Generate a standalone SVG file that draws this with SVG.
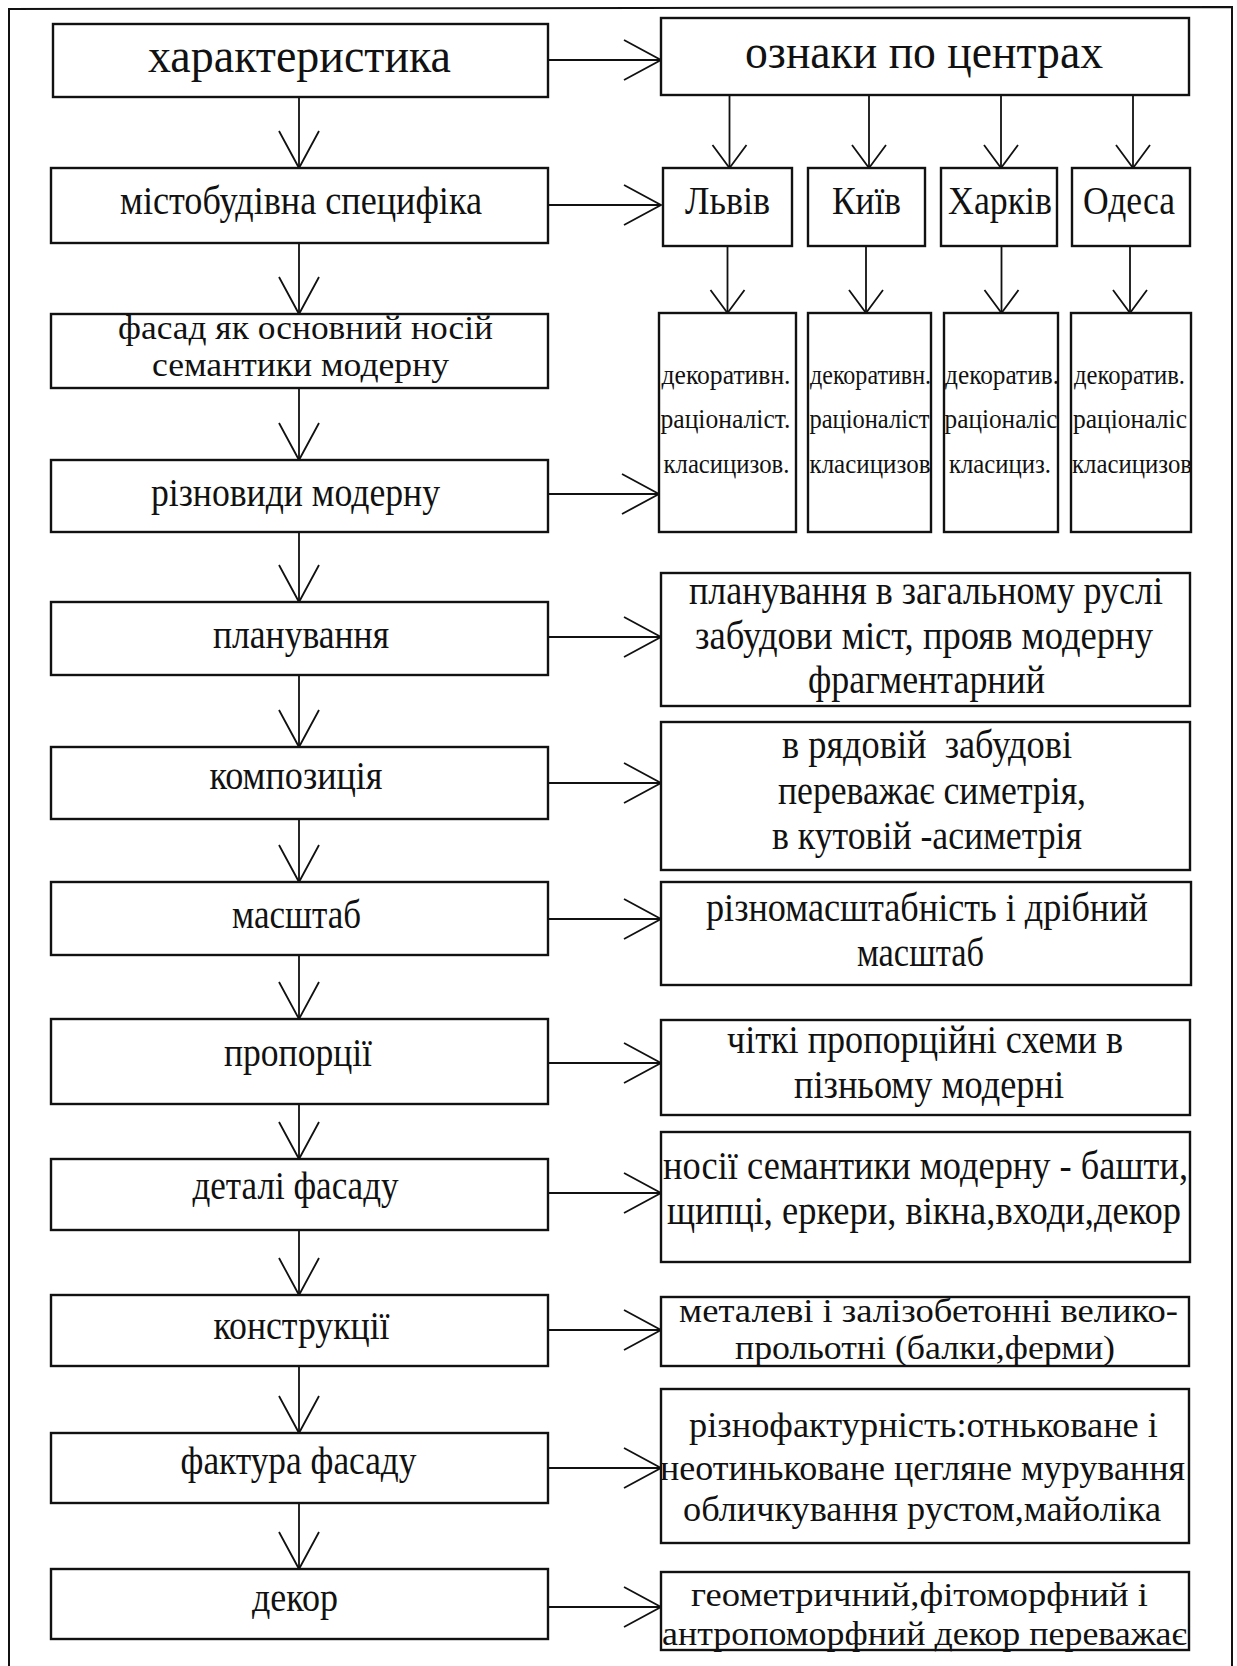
<svg xmlns="http://www.w3.org/2000/svg" width="1237" height="1666" viewBox="0 0 1237 1666">
  <style>
    .box { fill: #fff; stroke: #111; stroke-width: 2.4; }
    .t { font-family: "Liberation Serif", "Times New Roman", serif; fill: #111; font-size: 39px; }
    .big { font-size: 48px; }
    .mid { font-size: 36px; }
    .tight { font-size: 34px; }
    .sm { font-size: 28px; }
    .ln { fill: none; stroke: #111; stroke-width: 1.8; }
    .frame { fill: none; stroke: #111; stroke-width: 2; }
  </style>
  <defs>
    <!-- open V arrowheads: long one for the main chain, short one for the city fan-out -->
    <marker id="arrow" markerUnits="userSpaceOnUse" viewBox="-40 -24 44 48" markerWidth="44" markerHeight="48" refX="0" refY="0" orient="auto" overflow="visible">
      <path d="M-37,-20 L0,0 L-37,20" fill="none" stroke="#111" stroke-width="1.8"/>
    </marker>
    <marker id="arrowS" markerUnits="userSpaceOnUse" viewBox="-28 -22 32 44" markerWidth="32" markerHeight="44" refX="0" refY="0" orient="auto" overflow="visible">
      <path d="M-23,-17 L0,0 L-23,17" fill="none" stroke="#111" stroke-width="1.8"/>
    </marker>
  </defs>

  <rect width="1237" height="1666" fill="#fff"/>

  <!-- page frame (open at the bottom) -->
  <path class="frame" d="M9,1666 L9,9 L1232,7 L1232,1666"/>

  <!-- connectors -->
  <g id="connectors">
    <!-- main vertical chain -->
    <line class="ln" x1="299" y1="97" x2="299" y2="168" marker-end="url(#arrow)"/>
    <line class="ln" x1="299" y1="243" x2="299" y2="314" marker-end="url(#arrow)"/>
    <line class="ln" x1="299" y1="388" x2="299" y2="460" marker-end="url(#arrow)"/>
    <line class="ln" x1="299" y1="532" x2="299" y2="602" marker-end="url(#arrow)"/>
    <line class="ln" x1="299" y1="675" x2="299" y2="747" marker-end="url(#arrow)"/>
    <line class="ln" x1="299" y1="819" x2="299" y2="882" marker-end="url(#arrow)"/>
    <line class="ln" x1="299" y1="955" x2="299" y2="1019" marker-end="url(#arrow)"/>
    <line class="ln" x1="299" y1="1104" x2="299" y2="1159" marker-end="url(#arrow)"/>
    <line class="ln" x1="299" y1="1230" x2="299" y2="1295" marker-end="url(#arrow)"/>
    <line class="ln" x1="299" y1="1366" x2="299" y2="1433" marker-end="url(#arrow)"/>
    <line class="ln" x1="299" y1="1503" x2="299" y2="1569" marker-end="url(#arrow)"/>

    <!-- horizontal links to the right column -->
    <line class="ln" x1="548" y1="60" x2="661" y2="60" marker-end="url(#arrow)"/>
    <line class="ln" x1="548" y1="205" x2="661" y2="205" marker-end="url(#arrow)"/>
    <line class="ln" x1="548" y1="494" x2="659" y2="494" marker-end="url(#arrow)"/>
    <line class="ln" x1="548" y1="637" x2="661" y2="637" marker-end="url(#arrow)"/>
    <line class="ln" x1="548" y1="783" x2="661" y2="783" marker-end="url(#arrow)"/>
    <line class="ln" x1="548" y1="919" x2="661" y2="919" marker-end="url(#arrow)"/>
    <line class="ln" x1="548" y1="1063" x2="661" y2="1063" marker-end="url(#arrow)"/>
    <line class="ln" x1="548" y1="1193" x2="661" y2="1193" marker-end="url(#arrow)"/>
    <line class="ln" x1="548" y1="1330" x2="661" y2="1330" marker-end="url(#arrow)"/>
    <line class="ln" x1="548" y1="1468" x2="661" y2="1468" marker-end="url(#arrow)"/>
    <line class="ln" x1="548" y1="1607" x2="661" y2="1607" marker-end="url(#arrow)"/>

    <!-- centres fan-out -->
    <line class="ln" x1="729.5" y1="95" x2="729.5" y2="168" marker-end="url(#arrowS)"/>
    <line class="ln" x1="869" y1="95" x2="869" y2="168" marker-end="url(#arrowS)"/>
    <line class="ln" x1="1001" y1="95" x2="1001" y2="168" marker-end="url(#arrowS)"/>
    <line class="ln" x1="1133" y1="95" x2="1133" y2="168" marker-end="url(#arrowS)"/>

    <line class="ln" x1="727.5" y1="246" x2="727.5" y2="313" marker-end="url(#arrowS)"/>
    <line class="ln" x1="866" y1="246" x2="866" y2="313" marker-end="url(#arrowS)"/>
    <line class="ln" x1="1001.5" y1="246" x2="1001.5" y2="313" marker-end="url(#arrowS)"/>
    <line class="ln" x1="1130" y1="246" x2="1130" y2="313" marker-end="url(#arrowS)"/>
  </g>

  <!-- left column -->
  <g id="n-harakterystyka">
    <rect class="box" x="53" y="24" width="495" height="73"/>
    <text class="t big" x="148" y="72" textLength="303" lengthAdjust="spacingAndGlyphs">характеристика</text>
  </g>
  <g id="n-mistobud">
    <rect class="box" x="51" y="168" width="497" height="75"/>
    <text class="t" x="120" y="214" textLength="362" lengthAdjust="spacingAndGlyphs">містобудівна специфіка</text>
  </g>
  <g id="n-fasad">
    <rect class="box" x="51" y="314" width="497" height="74"/>
    <text class="t tight" x="118" y="339" textLength="375" lengthAdjust="spacingAndGlyphs">фасад як основний носій</text>
    <text class="t tight" x="152" y="376" textLength="297" lengthAdjust="spacingAndGlyphs">семантики модерну</text>
  </g>
  <g id="n-riznovydy">
    <rect class="box" x="51" y="460" width="497" height="72"/>
    <text class="t" x="151" y="506" textLength="289" lengthAdjust="spacingAndGlyphs">різновиди модерну</text>
  </g>
  <g id="n-planuvannia">
    <rect class="box" x="51" y="602" width="497" height="73"/>
    <text class="t" x="213" y="648" textLength="176" lengthAdjust="spacingAndGlyphs">планування</text>
  </g>
  <g id="n-kompozytsiia">
    <rect class="box" x="51" y="747" width="497" height="72"/>
    <text class="t" x="209.5" y="789" textLength="173" lengthAdjust="spacingAndGlyphs">композиція</text>
  </g>
  <g id="n-masshtab">
    <rect class="box" x="51" y="882" width="497" height="73"/>
    <text class="t" x="232" y="928" textLength="129" lengthAdjust="spacingAndGlyphs">масштаб</text>
  </g>
  <g id="n-proportsii">
    <rect class="box" x="51" y="1019" width="497" height="85"/>
    <text class="t" x="224" y="1066" textLength="148" lengthAdjust="spacingAndGlyphs">пропорції</text>
  </g>
  <g id="n-detali">
    <rect class="box" x="51" y="1159" width="497" height="71"/>
    <text class="t" x="192.5" y="1199" textLength="206" lengthAdjust="spacingAndGlyphs">деталі фасаду</text>
  </g>
  <g id="n-konstruktsii">
    <rect class="box" x="51" y="1295" width="497" height="71"/>
    <text class="t" x="213.5" y="1339" textLength="176" lengthAdjust="spacingAndGlyphs">конструкції</text>
  </g>
  <g id="n-faktura">
    <rect class="box" x="51" y="1433" width="497" height="70"/>
    <text class="t" x="180.5" y="1474" textLength="236" lengthAdjust="spacingAndGlyphs">фактура фасаду</text>
  </g>
  <g id="n-dekor">
    <rect class="box" x="51" y="1569" width="497" height="70"/>
    <text class="t" x="252" y="1611" textLength="86" lengthAdjust="spacingAndGlyphs">декор</text>
  </g>

  <!-- right column: centres -->
  <g id="n-oznaky">
    <rect class="box" x="661" y="18" width="528" height="77"/>
    <text class="t big" x="745" y="68" textLength="358" lengthAdjust="spacingAndGlyphs">ознаки по центрах</text>
  </g>
  <g id="n-lviv">
    <rect class="box" x="663" y="168" width="129" height="78"/>
    <text class="t" x="685" y="214" textLength="85" lengthAdjust="spacingAndGlyphs">Львів</text>
  </g>
  <g id="n-kyiv">
    <rect class="box" x="808" y="168" width="117" height="78"/>
    <text class="t" x="832" y="214" textLength="69" lengthAdjust="spacingAndGlyphs">Київ</text>
  </g>
  <g id="n-kharkiv">
    <rect class="box" x="941" y="168" width="116" height="78"/>
    <text class="t" x="948" y="214" textLength="104" lengthAdjust="spacingAndGlyphs">Харків</text>
  </g>
  <g id="n-odesa">
    <rect class="box" x="1072" y="168" width="118" height="78"/>
    <text class="t" x="1083" y="214" textLength="92" lengthAdjust="spacingAndGlyphs">Одеса</text>
  </g>

  <g id="n-lviv-styles">
    <rect class="box" x="659" y="313" width="137" height="219"/>
    <text class="t sm" x="661.5" y="384" textLength="129" lengthAdjust="spacingAndGlyphs">декоративн.</text>
    <text class="t sm" x="660.5" y="428" textLength="130" lengthAdjust="spacingAndGlyphs">раціоналіст.</text>
    <text class="t sm" x="663.5" y="473" textLength="126" lengthAdjust="spacingAndGlyphs">класицизов.</text>
  </g>
  <g id="n-kyiv-styles">
    <rect class="box" x="808" y="313" width="123" height="219"/>
    <text class="t sm" x="810" y="384" textLength="121" lengthAdjust="spacingAndGlyphs">декоративн.</text>
    <text class="t sm" x="809.5" y="428" textLength="120" lengthAdjust="spacingAndGlyphs">раціоналіст</text>
    <text class="t sm" x="809.5" y="473" textLength="121" lengthAdjust="spacingAndGlyphs">класицизов</text>
  </g>
  <g id="n-kharkiv-styles">
    <rect class="box" x="944" y="313" width="114" height="219"/>
    <text class="t sm" x="945" y="384" textLength="114" lengthAdjust="spacingAndGlyphs">декоратив.</text>
    <text class="t sm" x="944.5" y="428" textLength="113" lengthAdjust="spacingAndGlyphs">раціоналіс</text>
    <text class="t sm" x="949" y="473" textLength="102" lengthAdjust="spacingAndGlyphs">класициз.</text>
  </g>
  <g id="n-odesa-styles">
    <rect class="box" x="1071" y="313" width="120" height="219"/>
    <text class="t sm" x="1074" y="384" textLength="111" lengthAdjust="spacingAndGlyphs">декоратив.</text>
    <text class="t sm" x="1073" y="428" textLength="114" lengthAdjust="spacingAndGlyphs">раціоналіс</text>
    <text class="t sm" x="1072" y="473" textLength="120" lengthAdjust="spacingAndGlyphs">класицизов</text>
  </g>

  <!-- right column: descriptions -->
  <g id="n-planuvannia-d">
    <rect class="box" x="661" y="573" width="529" height="133"/>
    <text class="t" x="689" y="604" textLength="474" lengthAdjust="spacingAndGlyphs">планування в загальному руслі</text>
    <text class="t" x="695" y="649" textLength="458" lengthAdjust="spacingAndGlyphs">забудови міст, прояв модерну</text>
    <text class="t" x="808" y="693" textLength="237" lengthAdjust="spacingAndGlyphs">фрагментарний</text>
  </g>
  <g id="n-kompozytsiia-d">
    <rect class="box" x="661" y="722" width="529" height="148"/>
    <text class="t" x="782" y="758" textLength="290" lengthAdjust="spacingAndGlyphs" xml:space="preserve">в рядовій  забудові</text>
    <text class="t" x="778" y="804" textLength="308" lengthAdjust="spacingAndGlyphs">переважає симетрія,</text>
    <text class="t" x="772" y="849" textLength="310" lengthAdjust="spacingAndGlyphs">в кутовій -асиметрія</text>
  </g>
  <g id="n-masshtab-d">
    <rect class="box" x="661" y="882" width="530" height="103"/>
    <text class="t" x="706" y="921" textLength="442" lengthAdjust="spacingAndGlyphs">різномасштабність і дрібний</text>
    <text class="t" x="857" y="966" textLength="127" lengthAdjust="spacingAndGlyphs">масштаб</text>
  </g>
  <g id="n-proportsii-d">
    <rect class="box" x="661" y="1020" width="529" height="95"/>
    <text class="t" x="727" y="1053" textLength="396" lengthAdjust="spacingAndGlyphs">чіткі пропорційні схеми в</text>
    <text class="t" x="794" y="1098" textLength="270" lengthAdjust="spacingAndGlyphs">пізньому модерні</text>
  </g>
  <g id="n-detali-d">
    <rect class="box" x="661" y="1132" width="529" height="130"/>
    <text class="t" x="663" y="1179" textLength="525" lengthAdjust="spacingAndGlyphs">носії семантики модерну - башти,</text>
    <text class="t" x="667" y="1224" textLength="514" lengthAdjust="spacingAndGlyphs">щипці, еркери, вікна,входи,декор</text>
  </g>
  <g id="n-konstruktsii-d">
    <rect class="box" x="661" y="1297" width="528" height="69"/>
    <text class="t tight" x="679" y="1322" textLength="499" lengthAdjust="spacingAndGlyphs">металеві і залізобетонні велико-</text>
    <text class="t tight" x="735" y="1359" textLength="380" lengthAdjust="spacingAndGlyphs">прольотні (балки,ферми)</text>
  </g>
  <g id="n-faktura-d">
    <rect class="box" x="661" y="1389" width="528" height="154"/>
    <text class="t mid" x="689" y="1437" textLength="469" lengthAdjust="spacingAndGlyphs">різнофактурність:отньковане і</text>
    <text class="t mid" x="660" y="1480" textLength="525" lengthAdjust="spacingAndGlyphs">неотиньковане цегляне мурування</text>
    <text class="t mid" x="683" y="1521" textLength="478" lengthAdjust="spacingAndGlyphs">обличкування рустом,майоліка</text>
  </g>
  <g id="n-dekor-d">
    <rect class="box" x="661" y="1572" width="528" height="78"/>
    <text class="t tight" x="691" y="1606" textLength="457" lengthAdjust="spacingAndGlyphs">геометричний,фітоморфний і</text>
    <text class="t tight" x="662" y="1645" textLength="525" lengthAdjust="spacingAndGlyphs">антропоморфний декор переважає</text>
  </g>
</svg>
